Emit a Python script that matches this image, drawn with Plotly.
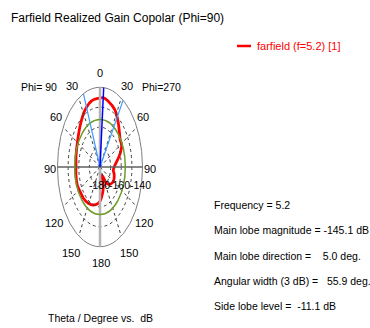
import numpy as np
import plotly.graph_objects as go

# ---------------- data ----------------
theta_deg = [-180, -175, -161.7, -148.8, -135, -129, -113, -100, -87.5, -77, -57, -39.6,
             -26.3, -12.7, 0, 5, 12.8, 26.3, 38.2, 54.7, 61.6, 68.5, 75.8, 86, 96.9,
             106.6, 120.5, 132.7, 142.4, 148, 155, 160, 165, 170, 178, 180]
gain_db = [-162.8, -161.7, -159.9, -158.7, -157.8, -157.8, -156.8, -157.0, -157.4, -156.8,
           -155.0, -151.5, -148.1, -145.8, -145.4, -145.1, -146.0, -148.1, -152.1, -156.6,
           -156.8, -159.1, -162.2, -165.8, -167.4, -166.0, -165.5, -167.2, -169.6, -173.5,
           -175.5, -172.0, -168.5, -166.5, -163.4, -162.8]

r_min, r_max = -180, -140
ring_db = [-170, -160, -150]
radial_labels = [-180, -160, -140]
angle_ticks = [0, 30, 60, 90, 120, 150, 180]
main_lobe_dir = 5.0
beam_edges = [-22.95, 32.95]
side_lobe_level = -156.2

info_lines = ["Frequency = 5.2",
              "Main lobe magnitude = -145.1 dB",
              "Main lobe direction =    5.0 deg.",
              "Angular width (3 dB) =   55.9 deg.",
              "Side lobe level =  -11.1 dB"]

FONT = "Liberation Sans, Arial, sans-serif"
W, H = 370, 328
CX, CY = 100, 167          # polar centre in pixels
RX, RY = 42.5, 79.7        # outer radius in pixels (x, y)


def frac(db):
    return (np.asarray(db, float) - r_min) / (r_max - r_min)


def xy(th, db):
    t = np.radians(np.asarray(th, float))
    r = frac(db)
    return r * np.sin(t), r * np.cos(t)


fig = go.Figure()

# rings (dashed) and outer ellipse
for d in ring_db:
    r = float(frac(d))
    fig.add_shape(type="circle", xref="x", yref="y", x0=-r, x1=r, y0=-r, y1=r,
                  line=dict(color="#404040", width=1, dash="dot"))
fig.add_shape(type="circle", xref="x", yref="y", x0=-1, x1=1, y0=-1, y1=1,
              line=dict(color="#808080", width=1))

# radial dashed spokes
for a in [30, 60, 120, 150, -30, -60, -120, -150]:
    t = np.radians(a)
    fig.add_shape(type="line", xref="x", yref="y", x0=0, y0=0, x1=np.sin(t), y1=np.cos(t),
                  line=dict(color="#404040", width=1, dash="dot"))

# axes
fig.add_shape(type="line", xref="x", yref="y", x0=0, y0=-1, x1=0, y1=1,
              line=dict(color="#b4b4b4", width=2.5))
fig.add_shape(type="line", xref="x", yref="y", x0=-1.0, y0=0, x1=1.0, y1=0,
              line=dict(color="#606060", width=1.5))

# side lobe level ellipse
rs = float(frac(side_lobe_level))
fig.add_shape(type="circle", xref="x", yref="y", x0=-rs, x1=rs, y0=-rs, y1=rs,
              line=dict(color="#6e9b2c", width=1.5))

# beam-width lines
for a in beam_edges:
    t = np.radians(a)
    fig.add_shape(type="line", xref="x", yref="y", x0=0, y0=0, x1=np.sin(t), y1=np.cos(t),
                  line=dict(color="#3c9cff", width=1.2))
# main lobe direction
t = np.radians(main_lobe_dir)
fig.add_shape(type="line", xref="x", yref="y", x0=0, y0=0, x1=np.sin(t), y1=np.cos(t),
              line=dict(color="#0000ff", width=1.5))

# red pattern curve
x, y = xy(theta_deg, gain_db)
fig.add_trace(go.Scatter(x=x, y=y, mode="lines", line=dict(color="#ff0000", width=2.8,
                                                            shape="spline", smoothing=0.8),
                         showlegend=False, hoverinfo="skip"))


def px(xp, yp):
    return xp / W, 1 - yp / H


def ann(text, xp, yp, size=13, color="#000000", xanchor="center"):
    ax, ay = px(xp, yp)
    fig.add_annotation(text=text, x=ax, y=ay, xref="paper", yref="paper", showarrow=False,
                       xanchor=xanchor, yanchor="middle",
                       font=dict(family=FONT, size=size, color=color))


# title, legend
ann("Farfield Realized Gain Copolar (Phi=90)", 9, 18, size=12, xanchor="left")
fig.add_shape(type="line", xref="paper", yref="paper",
              x0=237 / W, x1=251 / W, y0=1 - 46 / H, y1=1 - 46 / H,
              line=dict(color="#ff0000", width=2.5))
ann("farfield (f=5.2) [1]", 255, 46, size=11, color="#ff0000", xanchor="left")

# phi labels
ann("Phi= 90".replace(" ", "\u00a0"), 39, 87, size=10.5)
ann("Phi=270", 161, 87, size=10.5)

# angle labels
label_pos = {0: [(100, 73)], 30: [(72, 86), (127, 86)], 60: [(56, 117.5), (143, 117.5)],
             90: [(50, 169), (149.5, 169)], 120: [(54, 223), (144, 223)],
             150: [(71, 252.5), (129, 252.5)], 180: [(101, 262.5)]}
for a in angle_ticks:
    for (lx, ly) in label_pos[a]:
        ann(str(a), lx, ly, size=11)

# radial labels
rad_x = {-180: 99, -160: 119.5, -140: 140}
for d in radial_labels:
    ann("-" + str(abs(d)), rad_x[d], 185, size=10.5)

# axis title
ann("Theta / Degree vs.  dB".replace(" ", "\u00a0"), 100, 318, size=10.5)

# info block
for i, line in enumerate(info_lines):
    ann(line.replace(" ", "\u00a0"), 212, 205 + i * 25.3, size=10.5, xanchor="left")

fig.update_xaxes(range=[-CX / RX, (W - CX) / RX], visible=False, fixedrange=True)
fig.update_yaxes(range=[-(H - CY) / RY, CY / RY], visible=False, fixedrange=True)
fig.update_layout(width=W, height=H, margin=dict(l=0, r=0, t=0, b=0),
                  plot_bgcolor="white", paper_bgcolor="white", showlegend=False)

fig.write_html("out.html")
